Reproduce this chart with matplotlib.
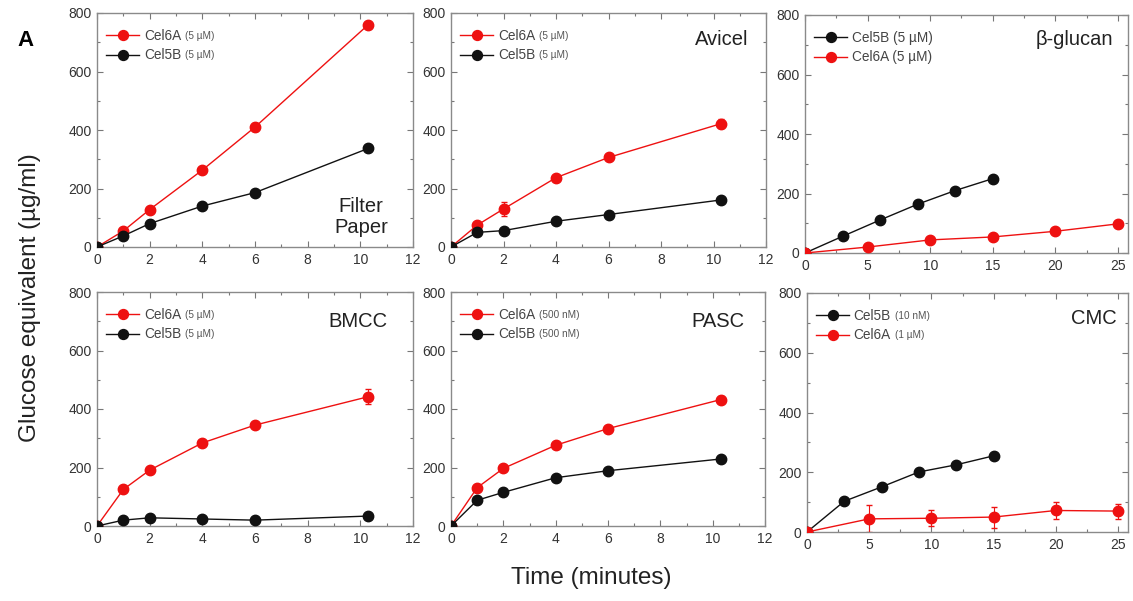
import numpy as np
import matplotlib
matplotlib.use("Agg")
import matplotlib.pyplot as plt
from matplotlib.ticker import MultipleLocator

plt.rcParams['font.family'] = ['Liberation Sans', 'DejaVu Sans']

RED = '#ee1111'
BLACK = '#111111'

# time points (minutes)
t_short = [0, 1, 2, 4, 6, 10.3]
t_cel5b_long = [0, 3, 6, 9, 12, 15]
t_cel6a_long = [0, 5, 10, 15, 20, 25]

# Filter Paper
fp_cel6a = [0, 55, 128, 263, 410, 760]
fp_cel6a_err = [0, 8, 8, 8, 15, 8]
fp_cel5b = [0, 38, 80, 140, 186, 337]
fp_cel5b_err = [0, 8, 12, 8, 10, 6]

# Avicel
av_cel6a = [0, 75, 130, 237, 306, 422]
av_cel6a_err = [0, 8, 25, 6, 6, 15]
av_cel5b = [0, 50, 56, 88, 111, 161]
av_cel5b_err = [0, 8, 5, 5, 5, 6]

# beta-glucan
bg_cel5b = [0, 56, 111, 164, 210, 250]
bg_cel5b_err = [0, 5, 5, 5, 5, 10]
bg_cel6a = [0, 20, 44, 54, 73, 98]
bg_cel6a_err = [0, 4, 4, 4, 4, 5]

# BMCC
bm_cel6a = [0, 125, 191, 284, 345, 442]
bm_cel6a_err = [0, 5, 5, 8, 5, 25]
bm_cel5b = [0, 20, 28, 24, 20, 34]
bm_cel5b_err = [0, 4, 6, 4, 4, 6]

# PASC
pa_cel6a = [0, 131, 197, 276, 333, 432]
pa_cel6a_err = [0, 5, 5, 5, 5, 12]
pa_cel5b = [0, 88, 115, 165, 189, 229]
pa_cel5b_err = [0, 5, 5, 5, 5, 5]

# CMC
cm_cel5b = [0, 103, 151, 201, 225, 255]
cm_cel5b_err = [0, 5, 5, 5, 5, 5]
cm_cel6a = [0, 44, 46, 50, 72, 70]
cm_cel6a_err = [0, 45, 27, 35, 30, 25]

W, H = 1133, 601
fig = plt.figure(figsize=(W / 100, H / 100), dpi=100)


def add_ax(left, right, top, bottom):
    return fig.add_axes([left / W, (H - bottom) / H, (right - left) / W, (bottom - top) / H])


def style_ax(ax, xmax, xmajor, xminor):
    ax.set_xlim(0, xmax)
    ax.set_ylim(0, 800)
    ax.xaxis.set_major_locator(MultipleLocator(xmajor))
    ax.xaxis.set_minor_locator(MultipleLocator(xminor))
    ax.yaxis.set_major_locator(MultipleLocator(200))
    ax.yaxis.set_minor_locator(MultipleLocator(100))
    ax.tick_params(which='both', direction='in', top=True, right=True,
                   colors='#777777', labelcolor='#333333', labelsize=10, width=0.8)
    ax.tick_params(which='major', length=4.5, pad=4)
    ax.tick_params(which='minor', length=2.5)
    for s in ax.spines.values():
        s.set_color('#8a8a8a')
        s.set_linewidth(1.0)


def series(ax, x, y, err, color, label):
    ax.errorbar(x, y, yerr=err, fmt='none', ecolor=color, elinewidth=0.8, capsize=2, zorder=2)
    ax.plot(x, y, color=color, marker='o', markersize=7.5, lw=1.0,
            markeredgecolor=color, label=label, zorder=3)


panels = [
    # (bounds, xmax, xmajor, xminor, series list, panel label, label pos, align)
    ((97, 413, 13, 247), 12, 2, 1,
     [(t_short, fp_cel6a, fp_cel6a_err, RED, 'Cel6A', '(5 µM)'),
      (t_short, fp_cel5b, fp_cel5b_err, BLACK, 'Cel5B', '(5 µM)')],
     'Filter\nPaper', (0.835, 0.128), 'center'),
    ((451, 766, 13, 247), 12, 2, 1,
     [(t_short, av_cel6a, av_cel6a_err, RED, 'Cel6A', '(5 µM)'),
      (t_short, av_cel5b, av_cel5b_err, BLACK, 'Cel5B', '(5 µM)')],
     'Avicel', (0.943, 0.885), 'right'),
    ((805, 1128, 15, 253), 25.8, 5, 2.5,
     [(t_cel5b_long, bg_cel5b, bg_cel5b_err, BLACK, 'Cel5B (5 µM)', None),
      (t_cel6a_long, bg_cel6a, bg_cel6a_err, RED, 'Cel6A (5 µM)', None)],
     'β-glucan', (0.954, 0.895), 'right'),
    ((97, 413, 292, 526), 12, 2, 1,
     [(t_short, bm_cel6a, bm_cel6a_err, RED, 'Cel6A', '(5 µM)'),
      (t_short, bm_cel5b, bm_cel5b_err, BLACK, 'Cel5B', '(5 µM)')],
     'BMCC', (0.918, 0.872), 'right'),
    ((451, 765, 292, 526), 12, 2, 1,
     [(t_short, pa_cel6a, pa_cel6a_err, RED, 'Cel6A', '(500 nM)'),
      (t_short, pa_cel5b, pa_cel5b_err, BLACK, 'Cel5B', '(500 nM)')],
     'PASC', (0.936, 0.876), 'right'),
    ((807, 1128, 293, 532), 25.8, 5, 2.5,
     [(t_cel5b_long, cm_cel5b, cm_cel5b_err, BLACK, 'Cel5B', '(10 nM)'),
      (t_cel6a_long, cm_cel6a, cm_cel6a_err, RED, 'Cel6A', '(1 µM)')],
     'CMC', (0.966, 0.895), 'right'),
]

legends = []
for bounds, xmax, xmaj, xmin, sers, name, pos, ha in panels:
    ax = add_ax(*bounds)
    style_ax(ax, xmax, xmaj, xmin)
    for x, y, e, c, lab, conc in sers:
        series(ax, x, y, e, c, lab)
    leg = ax.legend(loc='upper left', bbox_to_anchor=(-0.02, 1.0), frameon=False,
                    fontsize=9.8, handlelength=2.4, handletextpad=0.35,
                    labelspacing=0.42, borderaxespad=0.75, markerscale=0.95)
    for txt in leg.get_texts():
        txt.set_color('#444444')
    legends.append((leg, [s[5] for s in sers]))
    ax.text(pos[0], pos[1], name, transform=ax.transAxes, ha=ha, va='center',
            fontsize=14.5, color='#222222', linespacing=1.15, multialignment='center')

# small concentration labels placed after each legend entry
fig.canvas.draw()
renderer = fig.canvas.get_renderer()
inv = fig.transFigure.inverted()
for leg, concs in legends:
    for txt, conc in zip(leg.get_texts(), concs):
        if conc is None:
            continue
        bb = txt.get_window_extent(renderer)
        x0, y0 = inv.transform((bb.x1 + 4, (bb.y0 + bb.y1) / 2))
        fig.text(x0, y0, conc, fontsize=7.2, color='#555555', ha='left', va='center')

fig.text(25 / W, 1 - 40 / H, 'A', fontsize=16, fontweight='bold', ha='center', va='center')
fig.text(30 / W, 1 - 298 / H, 'Glucose equivalent (µg/ml)', fontsize=17.5, rotation=90,
         ha='center', va='center', color='#222222')
fig.text(591 / W, 1 - 578 / H, 'Time (minutes)', fontsize=17.5, ha='center', va='center',
         color='#222222')

fig.savefig('out.png', dpi=100)
